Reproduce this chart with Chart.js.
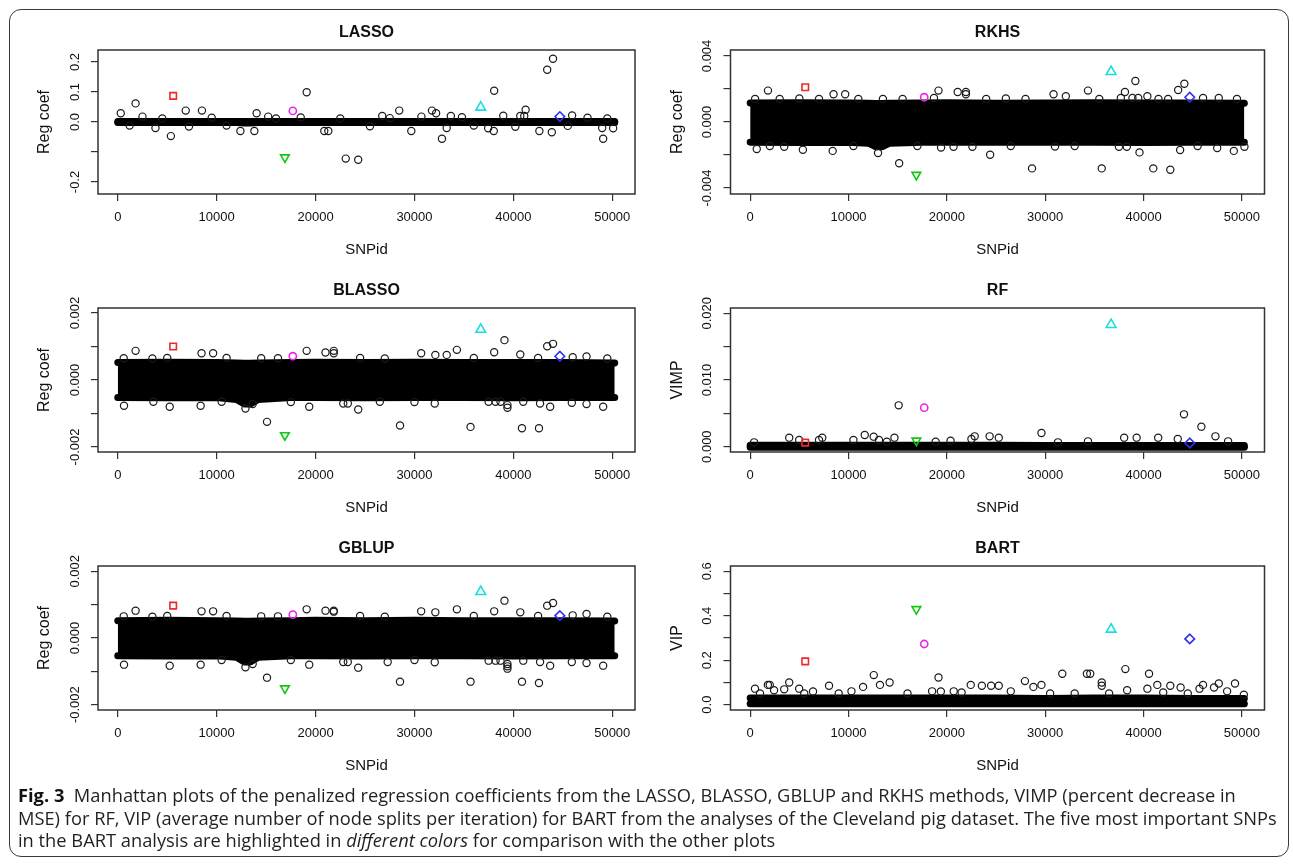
<!DOCTYPE html>
<html>
<head>
<meta charset="utf-8">
<script src="https://cdn.jsdelivr.net/npm/chart.js@4.4.1/dist/chart.umd.min.js"></script>
<style>
  body { margin: 0; background: #fff; }
  #page { position: relative; width: 1293px; height: 864px; overflow: hidden; }
  #frame { position: absolute; left: 9px; top: 9px; width: 1280px; height: 848px; border: 1.3px solid #3a3a3a; border-radius: 12px; box-sizing: border-box; }
  canvas { position: absolute; }
  #caption { position: absolute; left: 18px; top: 784px; font-family: "Open Sans"; font-size: 18.3px; line-height: 22.5px; color: #231f20; white-space: nowrap; }
  #caption b { color: #111; }
</style>
</head>
<body>
<div id="page">
  <div id="frame"></div>
  <canvas id="c0" width="635" height="256" style="left:10px;top:14px"></canvas>
  <canvas id="c1" width="645" height="256" style="left:645px;top:14px"></canvas>
  <canvas id="c2" width="635" height="256" style="left:10px;top:272px"></canvas>
  <canvas id="c3" width="645" height="256" style="left:645px;top:272px"></canvas>
  <canvas id="c4" width="635" height="256" style="left:10px;top:530px"></canvas>
  <canvas id="c5" width="645" height="256" style="left:645px;top:530px"></canvas>
  <div id="caption">
    <div><b>Fig. 3</b>&nbsp; Manhattan plots of the penalized regression coefficients from the LASSO, BLASSO, GBLUP and RKHS methods, VIMP (percent decrease in</div>
    <div>MSE) for RF, VIP (average number of node splits per iteration) for BART from the analyses of the Cleveland pig dataset. The five most important SNPs</div>
    <div>in the BART analysis are highlighted in <i>different colors</i> for comparison with the other plots</div>
  </div>
</div>
<script>
// SNP ids of the five top BART SNPs: red, magenta, green, cyan, blue
const top5Snp = [5600, 17700, 16900, 36700, 44700];
const xTicks = [0, 10000, 20000, 30000, 40000, 50000];
const xTickLabels = ["0", "10000", "20000", "30000", "40000", "50000"];

// the dense cloud of SNPs, upper and lower extent along the genome
const bandX = [0, 5000, 10000, 12000, 12800, 13400, 14200, 17500, 20000, 25000, 30000, 35000, 40000, 45000, 50250];

// LASSO
const lassoTop5 = [0.087, 0.037, -0.118, 0.049, 0.018];
const lassoBandHi = [0.002, 0.002, 0.002, 0.002, 0.002, 0.002, 0.002, 0.002, 0.002, 0.002, 0.002, 0.002, 0.002, 0.002, 0.002];
const lassoBandLo = [-0.002, -0.002, -0.002, -0.002, -0.003, -0.003, -0.002, -0.002, -0.002, -0.002, -0.002, -0.002, -0.002, -0.002, -0.002];
const lassoX = [300, 1200, 1800, 2500, 3810, 4500, 5370, 6870, 7200, 8510, 9500, 11000, 12400, 13810, 14040, 15210, 16000, 18500, 19100, 20880, 21290, 22500, 23050, 24310, 25500, 26740, 27500, 28460, 29680, 30700, 31770, 32190, 32780, 33260, 33680, 34800, 36000, 37450, 38020, 38060, 38980, 40200, 40700, 41100, 41240, 42630, 43420, 43890, 44010, 45500, 45940, 47500, 48980, 49080, 49500, 50090];
const lassoY = [0.029, -0.012, 0.062, 0.018, -0.02, 0.012, -0.047, 0.038, -0.015, 0.038, 0.014, -0.012, -0.03, -0.03, 0.029, 0.018, 0.012, 0.015, 0.099, -0.03, -0.03, 0.012, -0.122, -0.126, -0.014, 0.02, 0.013, 0.038, -0.03, 0.018, 0.038, 0.029, -0.056, -0.02, 0.02, 0.016, -0.012, -0.021, -0.03, 0.104, 0.021, -0.016, 0.02, 0.02, 0.041, -0.03, 0.174, -0.034, 0.211, -0.013, 0.022, 0.014, -0.02, -0.056, 0.012, -0.021];
const lassoTicks = [-0.2, -0.1, 0, 0.1, 0.2];
const lassoTickLabels = ["-0.2", "", "0.0", "0.1", "0.2"];

// RKHS
const rkhsTop5 = [0.0021, 0.0015, -0.0032, 0.00305, 0.0015];
const rkhsBandHi = [0.00115, 0.00116, 0.00115, 0.00113, 0.00112, 0.00112, 0.00113, 0.00115, 0.00116, 0.00114, 0.00115, 0.00117, 0.00115, 0.00115, 0.00113];
const rkhsBandLo = [-0.00122, -0.00124, -0.00122, -0.00128, -0.0015, -0.0015, -0.00128, -0.00122, -0.00123, -0.00122, -0.00122, -0.00122, -0.00124, -0.00122, -0.00122];
const rkhsX = [500, 1810, 3000, 5000, 7000, 8480, 9660, 11000, 13500, 15500, 18690, 19150, 21100, 21940, 21940, 24000, 26000, 28000, 30850, 32100, 34350, 35500, 37690, 38110, 38870, 39170, 39460, 40390, 41520, 42500, 43520, 44150, 46050, 47650, 49500,
  670, 2000, 3460, 5360, 8390, 10500, 13000, 15150, 17000, 19410, 20680, 22600, 24400, 26500, 28660, 31000, 33000, 35750, 37500, 38300, 39590, 40990, 42720, 43720, 45500, 47490, 49180, 50260];
const rkhsY = [0.0014, 0.0019, 0.0014, 0.00142, 0.0014, 0.00168, 0.00168, 0.0014, 0.0014, 0.0014, 0.00145, 0.0019, 0.00182, 0.00182, 0.00168, 0.0014, 0.00142, 0.0014, 0.00168, 0.00156, 0.0019, 0.0014, 0.00145, 0.00182, 0.00145, 0.00248, 0.00145, 0.00156, 0.0014, 0.0014, 0.00194, 0.00232, 0.00145, 0.00145, 0.0014,
  -0.00164, -0.00145, -0.0015, -0.00168, -0.00175, -0.00145, -0.00188, -0.0025, -0.00145, -0.00155, -0.0015, -0.0015, -0.00198, -0.00145, -0.00281, -0.00148, -0.00145, -0.00281, -0.0015, -0.0015, -0.00184, -0.00281, -0.00289, -0.0017, -0.00145, -0.00158, -0.00175, -0.0015];
const rkhsTicks = [-0.004, -0.002, 0, 0.002, 0.004];
const rkhsTickLabels = ["-0.004", "", "0.000", "", "0.004"];

// BLASSO
const blassoTop5 = [0.001, 0.00071, -0.00165, 0.00151, 0.00071];
const blassoBandHi = [0.00052, 0.00053, 0.00052, 0.00051, 0.0005, 0.0005, 0.00051, 0.00052, 0.00053, 0.00052, 0.00053, 0.00052, 0.00052, 0.00052, 0.00051];
const blassoBandLo = [-0.00052, -0.00053, -0.00052, -0.00058, -0.00072, -0.00072, -0.00058, -0.00052, -0.00052, -0.00053, -0.00052, -0.00052, -0.00053, -0.00052, -0.00052];
const blassoX = [600, 1800, 3500, 5000, 8470, 9640, 11000, 14500, 16200, 19100, 21000, 21840, 21840, 24500, 27000, 30680, 32110, 33260, 34290, 36000, 38060, 39100, 40700, 42500, 43420, 44010, 46000, 47400, 49500,
  630, 3600, 5250, 8380, 10500, 12910, 13640, 15090, 17500, 19360, 22800, 23260, 24310, 26500, 28540, 30000, 32050, 35670, 37500, 38200, 38700, 39400, 39400, 40870, 41000, 42590, 42700, 43720, 45910, 47400, 49080];
const blassoY = [0.00065, 0.00087, 0.00064, 0.00066, 0.0008, 0.0008, 0.00066, 0.00065, 0.00065, 0.00087, 0.00082, 0.00087, 0.0008, 0.00066, 0.00064, 0.0008, 0.00075, 0.00075, 0.0009, 0.00066, 0.00083, 0.00119, 0.00076, 0.00066, 0.00101, 0.00108, 0.00068, 0.0007, 0.00064,
  -0.00077, -0.00065, -0.0008, -0.00077, -0.00065, -0.00085, -0.00072, -0.00125, -0.00066, -0.0008, -0.0007, -0.0007, -0.00088, -0.00065, -0.00136, -0.00066, -0.0007, -0.0014, -0.00065, -0.00065, -0.00065, -0.00083, -0.00075, -0.00144, -0.00065, -0.00144, -0.0007, -0.0008, -0.00068, -0.00072, -0.0008];
const blassoTicks = [-0.002, -0.001, 0, 0.001, 0.002];
const blassoTickLabels = ["-0.002", "", "0.000", "", "0.002"];

// RF
const rfTop5 = [0.0006, 0.00585, 0.0009, 0.0183, 0.00055];
const rfBandHi = [0.0002, 0.0002, 0.0002, 0.0002, 0.0002, 0.0002, 0.0002, 0.0002, 0.0002, 0.0002, 0.00018, 0.00018, 0.00018, 0.00018, 0.00018];
const rfBandLo = [-0.0001, -0.0001, -0.0001, -0.0001, -0.0001, -0.0001, -0.0001, -0.0001, -0.0001, -0.0001, -0.0001, -0.0001, -0.0001, -0.0001, -0.0001];
const rfX = [400, 3970, 4980, 7000, 7330, 10500, 11650, 12560, 13100, 13900, 14670, 15100, 18860, 20380, 22500, 22830, 24350, 25280, 29620, 31300, 34350, 38030, 39300, 41490, 43480, 44110, 45880, 47310, 48600];
const rfY = [0.00065, 0.00135, 0.001, 0.001, 0.00135, 0.001, 0.00175, 0.0015, 0.001, 0.00075, 0.00135, 0.0062, 0.00075, 0.0009, 0.00115, 0.00155, 0.00155, 0.00135, 0.00205, 0.00065, 0.0008, 0.00135, 0.00135, 0.00135, 0.00115, 0.00485, 0.003, 0.00155, 0.0008];
const rfTicks = [0, 0.005, 0.01, 0.015, 0.02];
const rfTickLabels = ["0.000", "", "0.010", "", "0.020"];

// GBLUP
const gblupTop5 = [0.00097, 0.0007, -0.00151, 0.00139, 0.00067];
const gblupBandHi = [0.00052, 0.00053, 0.00052, 0.00051, 0.0005, 0.0005, 0.00051, 0.00052, 0.00053, 0.00052, 0.00053, 0.00052, 0.00052, 0.00052, 0.00051];
const gblupBandLo = [-0.00053, -0.00054, -0.00053, -0.00058, -0.00072, -0.00072, -0.00058, -0.00053, -0.00053, -0.00054, -0.00053, -0.00053, -0.00054, -0.00053, -0.00053];
const gblupX = [600, 1800, 3500, 5000, 8470, 9640, 11000, 14500, 16200, 19100, 21000, 21840, 21840, 24500, 27000, 30680, 32110, 34290, 36000, 38060, 39100, 40700, 42500, 43420, 44010, 46000, 47400, 49500,
  630, 5250, 8380, 10500, 12910, 13640, 15090, 17500, 19360, 22800, 23260, 24310, 27290, 28540, 30000, 32050, 35670, 37500, 38200, 38700, 39400, 39400, 39400, 40870, 41000, 42590, 42700, 43720, 45910, 47400, 49080];
const gblupY = [0.00065, 0.00082, 0.00064, 0.00066, 0.0008, 0.0008, 0.00066, 0.00065, 0.00065, 0.00086, 0.00082, 0.00082, 0.00079, 0.00066, 0.00064, 0.0008, 0.00077, 0.00086, 0.00066, 0.0008, 0.00112, 0.00077, 0.00066, 0.00097, 0.00105, 0.00068, 0.00072, 0.00064,
  -0.0008, -0.00083, -0.0008, -0.00066, -0.00088, -0.00078, -0.00119, -0.00066, -0.0008, -0.00072, -0.00072, -0.00089, -0.00072, -0.00131, -0.00066, -0.00073, -0.00131, -0.00068, -0.00068, -0.00068, -0.00078, -0.00085, -0.00092, -0.00131, -0.00068, -0.00135, -0.00072, -0.00083, -0.00072, -0.00075, -0.00083];
const gblupTicks = [-0.002, -0.001, 0, 0.001, 0.002];
const gblupTickLabels = ["-0.002", "", "0.000", "", "0.002"];

// BART
const bartTop5 = [0.195, 0.273, 0.43, 0.339, 0.296];
const bartBandHi = [0.03, 0.03, 0.03, 0.03, 0.03, 0.03, 0.03, 0.03, 0.03, 0.03, 0.028, 0.03, 0.03, 0.028, 0.028];
const bartBandLo = [0.004, 0.004, 0.004, 0.004, 0.004, 0.004, 0.004, 0.004, 0.004, 0.004, 0.004, 0.004, 0.004, 0.004, 0.004];
const bartX = [490, 1000, 1800, 1990, 2430, 3460, 3970, 4980, 5500, 6390, 8020, 9000, 10300, 11480, 12570, 13200, 14180, 16000, 18500, 19150, 19390, 20700, 21500, 22430, 23560, 24500, 25280, 26500, 27940, 28800, 29620, 30500, 31740, 33000, 34240, 34580, 35750, 35750, 36500, 38150, 38330, 40390, 40560, 41400, 42000, 42720, 43770, 44500, 45690, 46050, 47170, 47650, 48500, 49300, 50200];
const bartY = [0.072, 0.05, 0.089, 0.089, 0.065, 0.069, 0.1, 0.072, 0.05, 0.059, 0.085, 0.05, 0.06, 0.08, 0.133, 0.089, 0.1, 0.05, 0.06, 0.122, 0.059, 0.06, 0.055, 0.089, 0.085, 0.085, 0.085, 0.06, 0.106, 0.08, 0.089, 0.05, 0.139, 0.05, 0.139, 0.139, 0.1, 0.085, 0.05, 0.16, 0.065, 0.072, 0.139, 0.089, 0.055, 0.085, 0.077, 0.05, 0.072, 0.089, 0.077, 0.095, 0.06, 0.095, 0.045];
const bartTicks = [0, 0.1, 0.2, 0.3, 0.4, 0.5, 0.6];
const bartTickLabels = ["0.0", "", "0.2", "", "0.4", "", "0.6"];

const panels = [
    { id: "c0", title: "LASSO", yTitle: "Reg coef", min: -0.24, max: 0.24, ticks: lassoTicks, labels: lassoTickLabels, top5: lassoTop5, hi: lassoBandHi, lo: lassoBandLo, xs: lassoX, ys: lassoY, left: 88, right: 10 },
    { id: "c1", title: "RKHS", yTitle: "Reg coef", min: -0.00436, max: 0.00436, ticks: rkhsTicks, labels: rkhsTickLabels, top5: rkhsTop5, hi: rkhsBandHi, lo: rkhsBandLo, xs: rkhsX, ys: rkhsY, left: 85.5, right: 25.5 },
    { id: "c2", title: "BLASSO", yTitle: "Reg coef", min: -0.00215, max: 0.00215, ticks: blassoTicks, labels: blassoTickLabels, top5: blassoTop5, hi: blassoBandHi, lo: blassoBandLo, xs: blassoX, ys: blassoY, left: 88, right: 10 },
    { id: "c3", title: "RF", yTitle: "VIMP", min: -0.0008, max: 0.0208, ticks: rfTicks, labels: rfTickLabels, top5: rfTop5, hi: rfBandHi, lo: rfBandLo, xs: rfX, ys: rfY, left: 85.5, right: 25.5 },
    { id: "c4", title: "GBLUP", yTitle: "Reg coef", min: -0.00216, max: 0.00216, ticks: gblupTicks, labels: gblupTickLabels, top5: gblupTop5, hi: gblupBandHi, lo: gblupBandLo, xs: gblupX, ys: gblupY, left: 88, right: 10 },
    { id: "c5", title: "BART", yTitle: "VIP", min: -0.024, max: 0.624, ticks: bartTicks, labels: bartTickLabels, top5: bartTop5, hi: bartBandHi, lo: bartBandLo, xs: bartX, ys: bartY, left: 85.5, right: 25.5 },
];

// marker look of the five highlighted SNPs (R pch 0, 1, 6, 2, 5)
const top5Style = [
    { color: "#f02828", style: "rect", radius: 4.6, rotation: 0 },
    { color: "#f020f0", style: "circle", radius: 3.6, rotation: 0 },
    { color: "#10c810", style: "triangle", radius: 5, rotation: 180 },
    { color: "#18dede", style: "triangle", radius: 5.6, rotation: 0 },
    { color: "#3030f0", style: "rectRot", radius: 4.8, rotation: 0 },
];

Chart.defaults.font.family = "'Liberation Sans', Arial, sans-serif";
Chart.defaults.color = "#111";

function rAxesPlugin(p) {
    return {
        id: "rAxes" + p.id,
        afterDraw(chart) {
            const ctx = chart.ctx;
            const a = chart.chartArea;
            const ys = chart.scales.y;
            const midX = (a.left + a.right) / 2;
            ctx.save();
            ctx.strokeStyle = "#333";
            ctx.lineWidth = 1.5;
            ctx.strokeRect(a.left, a.top, a.right - a.left, a.bottom - a.top);
            ctx.fillStyle = "#111";
            ctx.textAlign = "center";
            ctx.textBaseline = "middle";
            ctx.font = "bold 16px 'Liberation Sans'";
            ctx.fillText(p.title, midX, a.top - 17);
            ctx.font = "15px 'Liberation Sans'";
            ctx.fillText("SNPid", midX, a.bottom + 56);
            ctx.font = "13px 'Liberation Sans'";
            p.ticks.forEach((v, i) => {
                if (!p.labels[i]) return;
                ctx.save();
                ctx.translate(a.left - 23, ys.getPixelForValue(v));
                ctx.rotate(-Math.PI / 2);
                ctx.fillText(p.labels[i], 0, 0);
                ctx.restore();
            });
            ctx.font = "16px 'Liberation Sans'";
            ctx.translate(a.left - 53, (a.top + a.bottom) / 2);
            ctx.rotate(-Math.PI / 2);
            ctx.fillText(p.yTitle, 0, 0);
            ctx.restore();
        }
    };
}

panels.forEach(p => {
    let datasets = [];
    top5Snp.forEach((snp, i) => {
        const s = top5Style[i];
        datasets.push({
            data: [{ x: snp, y: p.top5[i] }],
            pointStyle: s.style,
            pointRadius: s.radius,
            rotation: s.rotation,
            borderColor: s.color,
            backgroundColor: "rgba(0,0,0,0)",
            borderWidth: 1.6,
        });
    });
    datasets.push({
        data: p.xs.map((x, i) => ({ x: x, y: p.ys[i] })),
        pointStyle: "circle",
        pointRadius: 3.6,
        borderColor: "#1a1a1a",
        backgroundColor: "rgba(0,0,0,0)",
        borderWidth: 1.2,
    });
    datasets.push({
        data: bandX.map((x, i) => ({ x: x, y: p.hi[i] })),
        showLine: true,
        pointRadius: 0,
        borderColor: "#000",
        borderWidth: 7,
        borderCapStyle: "round",
        borderJoinStyle: "round",
        fill: false,
    });
    datasets.push({
        data: bandX.map((x, i) => ({ x: x, y: p.lo[i] })),
        showLine: true,
        pointRadius: 0,
        borderColor: "#000",
        backgroundColor: "#000",
        borderWidth: 7,
        borderCapStyle: "round",
        borderJoinStyle: "round",
        fill: "-1",
    });

    new Chart(document.getElementById(p.id), {
        type: "scatter",
        data: { datasets: datasets },
        options: {
            responsive: false,
            animation: false,
            devicePixelRatio: 1,
            layout: { padding: { top: 36, right: p.right, left: 0, bottom: 0 } },
            plugins: { legend: { display: false }, tooltip: { enabled: false }, title: { display: false } },
            elements: { line: { tension: 0 } },
            scales: {
                x: {
                    type: "linear",
                    min: -2000,
                    max: 52300,
                    afterBuildTicks: s => { s.ticks = xTicks.map(v => ({ value: v })); },
                    afterFit: s => { s.height = 76; },
                    ticks: {
                        autoSkip: false,
                        maxRotation: 0,
                        minRotation: 0,
                        padding: 9,
                        font: { size: 13 },
                        color: "#111",
                        callback: v => xTickLabels[xTicks.indexOf(v)],
                    },
                    grid: { drawOnChartArea: false, drawTicks: true, tickLength: 7, color: "#333", lineWidth: 1.2 },
                    border: { display: false },
                },
                y: {
                    type: "linear",
                    min: p.min,
                    max: p.max,
                    afterBuildTicks: s => { s.ticks = p.ticks.map(v => ({ value: v })); },
                    afterFit: s => { s.width = p.left; },
                    ticks: { color: "rgba(0,0,0,0)", callback: () => " " },
                    grid: { drawOnChartArea: false, drawTicks: true, tickLength: 7, color: "#333", lineWidth: 1.2 },
                    border: { display: false },
                },
            },
        },
        plugins: [rAxesPlugin(p)],
    });
});
</script>
</body>
</html>
